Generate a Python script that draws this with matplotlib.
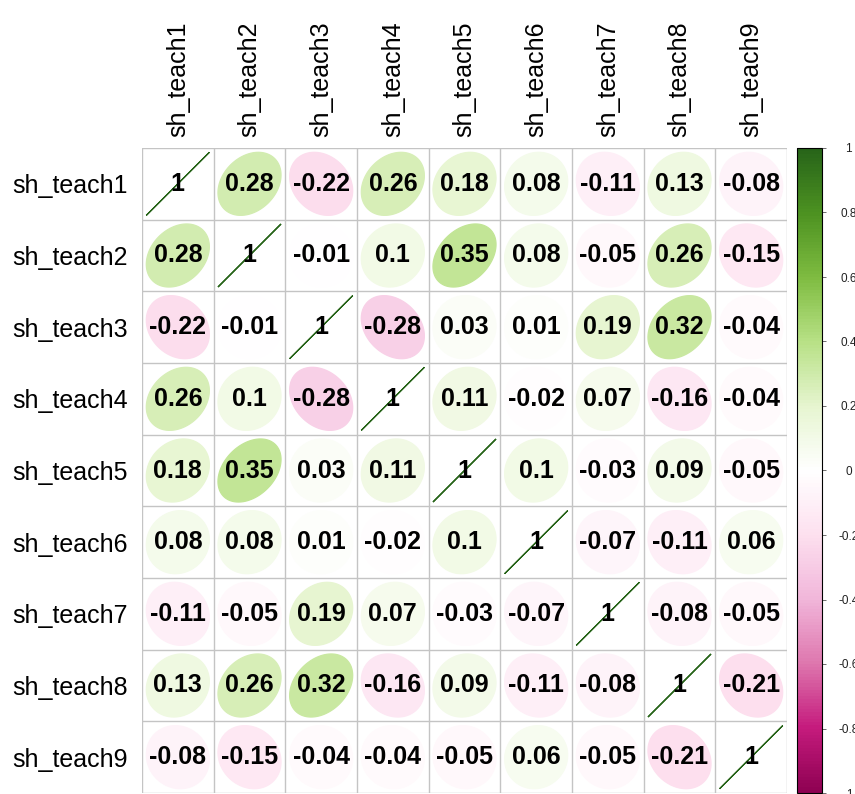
import matplotlib
matplotlib.use("Agg")
import matplotlib.pyplot as plt
import numpy as np
from matplotlib.patches import Polygon
from matplotlib.colors import Normalize, LinearSegmentedColormap
from matplotlib.cm import ScalarMappable

plt.rcParams['font.family'] = ['Liberation Sans', 'DejaVu Sans']

# variable names
variables = ['sh_teach1', 'sh_teach2', 'sh_teach3', 'sh_teach4', 'sh_teach5',
             'sh_teach6', 'sh_teach7', 'sh_teach8', 'sh_teach9']

# correlation matrix
corr = np.array([
    [1.00, 0.28, -0.22, 0.26, 0.18, 0.08, -0.11, 0.13, -0.08],
    [0.28, 1.00, -0.01, 0.10, 0.35, 0.08, -0.05, 0.26, -0.15],
    [-0.22, -0.01, 1.00, -0.28, 0.03, 0.01, 0.19, 0.32, -0.04],
    [0.26, 0.10, -0.28, 1.00, 0.11, -0.02, 0.07, -0.16, -0.04],
    [0.18, 0.35, 0.03, 0.11, 1.00, 0.10, -0.03, 0.09, -0.05],
    [0.08, 0.08, 0.01, -0.02, 0.10, 1.00, -0.07, -0.11, 0.06],
    [-0.11, -0.05, 0.19, 0.07, -0.03, -0.07, 1.00, -0.08, -0.05],
    [0.13, 0.26, 0.32, -0.16, 0.09, -0.11, -0.08, 1.00, -0.21],
    [-0.08, -0.15, -0.04, -0.04, -0.05, 0.06, -0.05, -0.21, 1.00],
])

colorbar_ticks = [-1, -0.8, -0.6, -0.4, -0.2, 0, 0.2, 0.4, 0.6, 0.8, 1]

# PiYG with a white middle (as in corrplot's COL2('PiYG'))
piyg = ["#8E0152", "#C51B7D", "#DE77AE", "#F1B6DA", "#FDE0EF", "#FFFFFF",
        "#E6F5D0", "#B8E186", "#7FBC41", "#4D9221", "#276419"]
cmap = LinearSegmentedColormap.from_list('piyg_white', piyg, N=200)
norm = Normalize(-1, 1)

W, H = 855, 794
fig = plt.figure(figsize=(W / 100, H / 100), dpi=100)

# main grid
ax = fig.add_axes([142 / W, 1 - 793 / H, 645 / W, 645 / H])
n = len(variables)

t = np.linspace(0, 2 * np.pi, 120)
scale = 0.44
for i in range(n):
    for j in range(n):
        r = corr[i, j]
        d = np.arccos(np.clip(r, -1, 1))
        ex = np.cos(t + d / 2) * scale + (j + 1)
        ey = np.cos(t - d / 2) * scale + (n - i)
        col = cmap(norm(r))
        ax.add_patch(Polygon(np.column_stack([ex, ey]), closed=True,
                             facecolor=col, edgecolor=col, lw=0.9, zorder=2))
        lab = f"{round(r, 2):g}"
        ax.text(j + 1, n - i, lab, ha='center', va='center', fontsize=18,
                fontweight='bold', color='black', zorder=3)

for k in range(n + 1):
    ax.axhline(k + 0.5, color='#C4C4C4', lw=1, zorder=1)
    ax.axvline(k + 0.5, color='#C4C4C4', lw=1, zorder=1)

ax.set_xlim(0.5, n + 0.5)
ax.set_ylim(0.5, n + 0.5)
for s in ax.spines.values():
    s.set_visible(False)
ax.xaxis.tick_top()
ax.set_xticks(np.arange(1, n + 1))
ax.set_xticklabels(variables, rotation=90, fontsize=18)
ax.set_yticks(np.arange(n, 0, -1))
ax.set_yticklabels(variables, fontsize=18)
ax.tick_params(length=0)
ax.tick_params(axis='x', pad=8)
ax.tick_params(axis='y', pad=10)

# colour legend
cax = fig.add_axes([797 / W, 1 - 793 / H, 25 / W, 645 / H])
cb = fig.colorbar(ScalarMappable(norm=norm, cmap=cmap), cax=cax)
cb.set_ticks(colorbar_ticks)
cb.set_ticklabels([f"{v:g}" for v in colorbar_ticks])
cb.outline.set_linewidth(0.8)
cax.tick_params(length=3, width=0.6, colors='#555555', labelsize=8.5, pad=16)
for tl in cax.get_yticklabels():
    tl.set_ha('center')
    tl.set_color('#222222')

fig.savefig('out.png', dpi=100)
